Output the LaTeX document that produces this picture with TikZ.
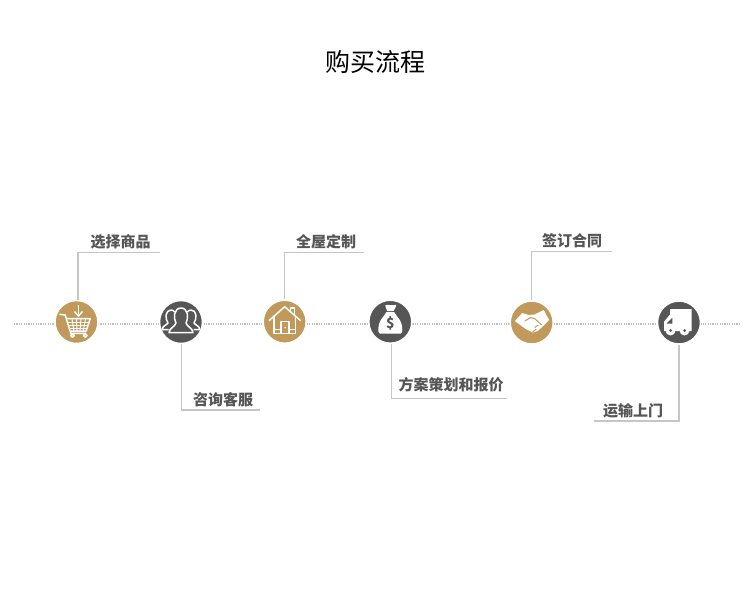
\documentclass[tikz,border=0pt]{standalone}
\usepackage{fontspec}
\setmainfont{Noto Sans CJK SC}
\usetikzlibrary{positioning}
\definecolor{stepgold}{RGB}{193, 154, 91}
\definecolor{stepdark}{RGB}{86, 86, 86}
\definecolor{leadergray}{RGB}{198, 198, 198}
\definecolor{textgray}{RGB}{85, 85, 85}
\tikzset{
  goldstep/.style={circle, fill=stepgold, draw=white, line width=1.5pt, minimum size=43pt, inner sep=0pt},
  darkstep/.style={circle, fill=stepdark, draw=white, line width=1.5pt, minimum size=43pt, inner sep=0pt},
  leader/.style={draw=leadergray, line width=1.3pt},
  steplabel/.style={font=\fontsize{15}{15}\selectfont\bfseries, text=textgray, inner sep=0pt},
  iconline/.style={draw=white, line width=1.5pt, line join=round}
}
\begin{document}
\begin{tikzpicture}[x=1pt, y=-1pt]
    \useasboundingbox (0,0) rectangle (750,603);
    \node[font=\fontsize{25}{25}\selectfont, inner sep=0pt] (title) at (375,62) {购买流程};

    % Dotted base line
    \coordinate (linestart) at (14,324);
    \coordinate (lineend) at (740,324);
    \draw[draw=gray!50, line width=1.3pt, dash pattern=on 1.2pt off 1.2pt] (linestart) -- (lineend);

    % Steps
    \node[goldstep] (cart) at (76.5,322) {};
    \node[darkstep] (people) at (181,322) {};
    \node[goldstep] (house) at (284.7,321.7) {};
    \node[darkstep] (bag) at (390.3,321.7) {};
    \node[goldstep] (hands) at (531.7,322.5) {};
    \node[darkstep] (truck) at (679,322.5) {};

    % Labels
    \node[steplabel] (cartlabel) at (120.5,242) {选择商品};
    \node[steplabel] (peoplelabel) at (223,400) {咨询客服};
    \node[steplabel] (houselabel) at (326,242) {全屋定制};
    \node[steplabel] (baglabel) at (451,385) {方案策划和报价};
    \node[steplabel] (handslabel) at (572,241) {签订合同};
    \node[steplabel] (trucklabel) at (633,410.5) {运输上门};

    % Leader lines
    \coordinate (cartbend) at (78,252.3);
    \coordinate (cartend) at (160,252.3);
    \coordinate (peoplebend) at (181.7,410);
    \coordinate (peopleend) at (260,410);
    \coordinate (housebend) at (284.3,252.7);
    \coordinate (houseend) at (364,252.7);
    \coordinate (bagbend) at (391.3,398.7);
    \coordinate (bagend) at (506.7,398.7);
    \coordinate (handsbend) at (531.3,251.7);
    \coordinate (handsend) at (612,251.7);
    \coordinate (truckbend) at (679,421);
    \coordinate (truckend) at (594,421);
    \draw[leader] (cartbend |- cart.north) -- (cartbend) -- (cartend);
    \draw[leader] (peoplebend |- people.south) -- (peoplebend) -- (peopleend);
    \draw[leader] (housebend |- house.north) -- (housebend) -- (houseend);
    \draw[leader] (bagbend |- bag.south) -- (bagbend) -- (bagend);
    \draw[leader] (handsbend |- hands.north) -- (handsbend) -- (handsend);
    \draw[leader] (truckbend |- truck.south) -- (truckbend) -- (truckend);

    % Cart icon
    \begin{scope}[shift={(cart.center)}]
        \draw[iconline] (2,-17) -- (2,-7);
        \draw[iconline] (-2,-10.5) -- (2,-6) -- (6,-10.5);
        \draw[iconline] (-17,-7.7) -- (-11.3,-7) -- (-5.7,11.3) -- (9.7,11.3);
        \draw[iconline] (-9.7,-3.3) -- (13.7,-3.3) -- (9.7,9) -- (-6,9);
        \draw[iconline, line width=1pt] (-8.7,0) -- (12.7,0) (-7.7,3) -- (11.7,3) (-6.8,6) -- (10.7,6);
        \draw[iconline, line width=1pt] (-4.5,-3.3) -- (-2.5,9) (0,-3.3) -- (0.5,9) (4.5,-3.3) -- (3.5,9) (9,-3.3) -- (6.7,9);
        \draw[iconline] (-4,13.5) circle (1.8) (8.7,13.5) circle (1.8);
    \end{scope}

    % People icon
    \begin{scope}[shift={(people.center)}]
        \draw[iconline] (-12,10.7) -- (12,10.7) .. controls (12,6) and (6,5) .. (5,1) .. controls (8,-4) and (7,-14) .. (0,-14) .. controls (-7,-14) and (-8,-4) .. (-5,1) .. controls (-6,5) and (-12,6) .. (-12,10.7) -- cycle;
        \draw[iconline] (-12.5,7.5) -- (-18.7,7.5) .. controls (-19,4) and (-14,3) .. (-13,1) .. controls (-16,-3) and (-16,-12) .. (-10,-12) .. controls (-8,-12) and (-7,-11) .. (-6.5,-10);
        \draw[iconline] (12.5,7.5) -- (18.7,7.5) .. controls (19,4) and (14,3) .. (13,1) .. controls (16,-3) and (16,-12) .. (10,-12) .. controls (8,-12) and (7,-11) .. (6.5,-10);
    \end{scope}

    % House icon
    \begin{scope}[shift={(house.center)}]
        \draw[iconline] (-15.7,-1) -- (0,-15) -- (16,-1);
        \draw[iconline] (6,-9.5) -- (6,-13.5) -- (9.7,-13.5) -- (9.7,-6);
        \draw[iconline] (-10.7,-5) -- (-10.7,11.7) -- (11,11.7) -- (11,-5);
        \draw[iconline] (-10.7,8) -- (-3.7,8) (4.3,8) -- (11,8);
        \draw[iconline] (-3.7,11.7) -- (-3.7,0) -- (4.3,0) -- (4.3,11.7);
        \fill[white] (0.5,6) circle (0.8);
    \end{scope}

    % Bag icon
    \begin{scope}[shift={(bag.center)}]
        \fill[white] (-5,-16.5) .. controls (-2,-17.5) and (2,-15.5) .. (6,-17) .. controls (6,-14) and (4,-12.5) .. (3,-10.5) -- (-3,-10.5) .. controls (-3.5,-12.5) and (-5,-14) .. (-5,-16.5) -- cycle;
        \fill[white] (-4,-9.5) -- (4,-9.5) .. controls (6,-5) and (12,-2) .. (12,8) .. controls (12,10) and (12,11.5) .. (10,12) -- (-10,12) .. controls (-12,11.5) and (-12,10) .. (-12,8) .. controls (-12,-2) and (-6,-5) .. (-4,-9.5) -- cycle;
        \node[font=\fontsize{14}{14}\selectfont\bfseries, text=stepdark, inner sep=0pt] (dollar) at (0,2) {\$};
    \end{scope}

    % Hands icon
    \begin{scope}[shift={(hands.center)}]
        \fill[white] (-16.8,-1.5) -- (-9.5,-9.5) -- (-3,-7.5) -- (3,-8) -- (12,-12.5) -- (17.5,-2.5) -- (12,3) -- (6,8.5) -- (1,10) -- (-6,6.5) -- cycle;
        \draw[stepgold, line width=1pt] (-7,-1.5) -- (-1,-5) -- (3.5,-3.5) -- (10,2.5);
        \draw[stepgold, line width=1pt] (1,9.5) -- (4.5,6.5) (3,5) -- (6.5,2.5);
    \end{scope}

    % Truck icon
    \begin{scope}[shift={(truck.center)}]
        \fill[white] (-9,-13.3) -- (12.7,-13.3) -- (12.7,8.5) -- (-15,8.5) -- (-15,-0.7) -- (-9,-8) -- cycle;
        \fill[white] (-8.5,8) circle (5) (5.5,8) circle (5);
        \fill[stepdark] (-12.3,1) -- (-6.7,1) -- (-6.7,-4.7) -- cycle;
        \fill[stepdark] (-8.5,8) circle (1.5) (5.5,8) circle (1.5);
    \end{scope}
\end{tikzpicture}
\end{document}
